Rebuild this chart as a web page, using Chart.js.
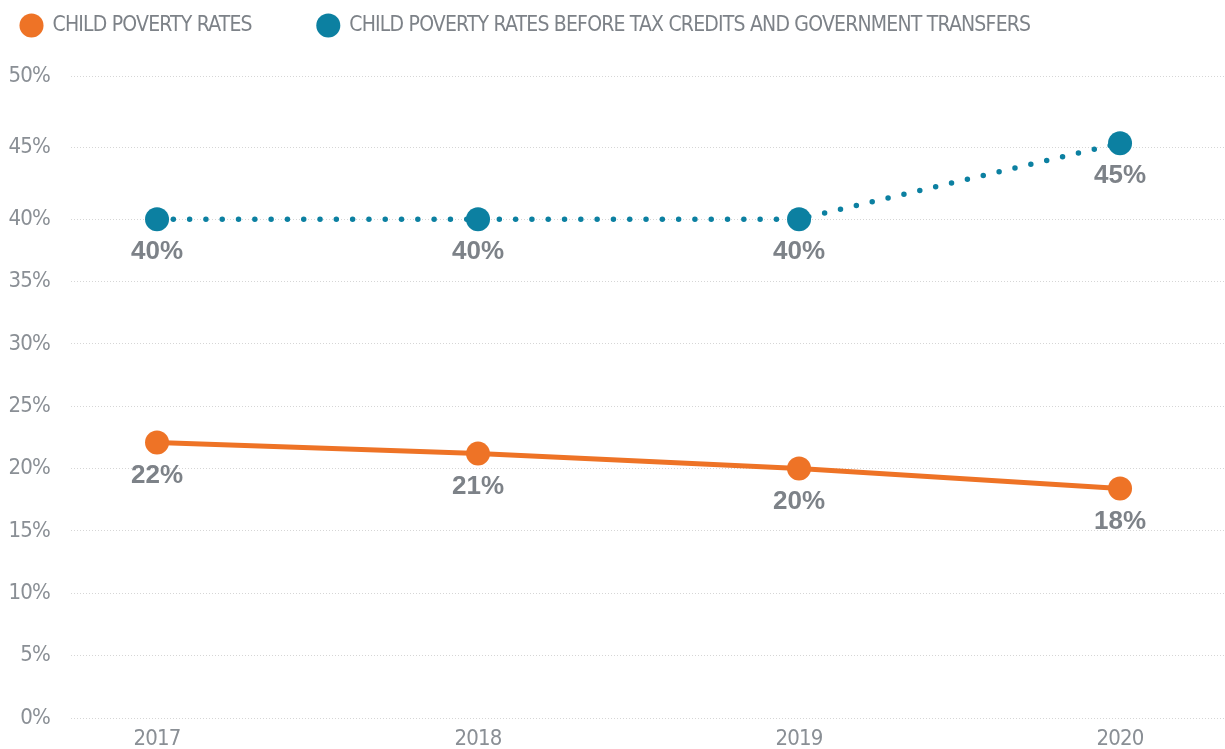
<!DOCTYPE html>
<html>
<head>
<meta charset="utf-8">
<script src="https://cdn.jsdelivr.net/npm/chart.js@4/dist/chart.umd.min.js"></script>
<style>
  html, body { margin: 0; padding: 0; background: #ffffff; overflow: hidden; width: 1225px; height: 749px; }
  #wrap { width: 1225px; height: 749px; overflow: hidden; }
  canvas { display: block; }
</style>
</head>
<body>
<div id="wrap"><canvas id="c" width="1225" height="749"></canvas></div>
<script>
// ---- data ----
const years = [2017, 2018, 2019, 2020];
const childPovertyRates = [22.1, 21.2, 20.0, 18.4];
const beforeTaxCreditsRates = [40.0, 40.0, 40.0, 45.3];
const seriesNames = ['CHILD POVERTY RATES', 'CHILD POVERTY RATES BEFORE TAX CREDITS AND GOVERNMENT TRANSFERS'];
const yTickValues = [0, 5, 10, 15, 20, 25, 30, 35, 40, 45, 50];

// ---- styles ----
const ORANGE = '#ee7326';
const BLUE = '#0c80a1';
const TEXT = '#7d8288';
const TICK = '#8a8f95';
const NARROW = "'DejaVu Sans Condensed', 'DejaVu Sans', sans-serif";

// the original y axis uses a wider spacing above 40%
const warpPoints = [[0, 0], [40, 0.777], [50, 1]];
function warp(v) {
  for (let i = 1; i < warpPoints.length; i++) {
    const [v0, d0] = warpPoints[i - 1], [v1, d1] = warpPoints[i];
    if (v <= v1 || i === warpPoints.length - 1) return d0 + (v - v0) / (v1 - v0) * (d1 - d0);
  }
}
function unwarp(d) {
  for (let i = 1; i < warpPoints.length; i++) {
    const [v0, d0] = warpPoints[i - 1], [v1, d1] = warpPoints[i];
    if (d <= d1 || i === warpPoints.length - 1) return v0 + (d - d0) / (d1 - d0) * (v1 - v0);
  }
}
class WarpScale extends Chart.LinearScale {
  getPixelForValue(value) {
    if (value === null || value === undefined || isNaN(value)) return NaN;
    return this.getPixelForDecimal(warp(value));
  }
  getValueForPixel(pixel) {
    return unwarp(this.getDecimalForPixel(pixel));
  }
}
WarpScale.id = 'warp';
WarpScale.defaults = Chart.LinearScale.defaults;
Chart.register(WarpScale);

const TRACK = '-0.8px';
const tracking = {
  id: 'tracking',
  beforeUpdate(chart) { chart.ctx.letterSpacing = TRACK; },
  beforeDraw(chart) { chart.ctx.letterSpacing = TRACK; }
};

const valueLabels = {
  id: 'valueLabels',
  afterDatasetsDraw(chart) {
    const ctx = chart.ctx;
    ctx.save();
    ctx.letterSpacing = '0px';
    ctx.font = "bold 26px 'Liberation Sans', Arial, sans-serif";
    ctx.fillStyle = TEXT;
    ctx.textAlign = 'center';
    ctx.textBaseline = 'middle';
    chart.data.datasets.forEach((ds, di) => {
      const meta = chart.getDatasetMeta(di);
      meta.data.forEach((pt, i) => {
        const v = ds.data[i].y;
        ctx.fillText(Math.round(v) + '%', pt.x, pt.y + 33);
      });
    });
    ctx.restore();
  }
};

const legendSize = {
  id: 'legendSize',
  beforeInit(chart) {
    const orig = chart.legend.fit;
    chart.legend.fit = function () {
      orig.call(this);
      this.height = 127;
    };
  }
};

const toPoints = (vals) => years.map((yr, i) => ({ x: yr, y: vals[i] }));

new Chart(document.getElementById('c'), {
  type: 'line',
  data: {
    datasets: [
      {
        label: seriesNames[0],
        data: toPoints(childPovertyRates),
        borderColor: ORANGE,
        backgroundColor: ORANGE,
        pointBackgroundColor: ORANGE,
        pointBorderWidth: 0,
        pointRadius: 12,
        borderWidth: 5,
        tension: 0
      },
      {
        label: seriesNames[1],
        data: toPoints(beforeTaxCreditsRates),
        borderColor: BLUE,
        backgroundColor: BLUE,
        pointBackgroundColor: BLUE,
        pointBorderWidth: 0,
        pointRadius: 12,
        borderWidth: 5.5,
        borderDash: [0, 16.3],
        borderCapStyle: 'round',
        tension: 0
      }
    ]
  },
  options: {
    responsive: false,
    animation: false,
    devicePixelRatio: 1,
    layout: { autoPadding: false, padding: { top: -51, left: -45, right: 0, bottom: 0 } },
    plugins: {
      tooltip: { enabled: false },
      legend: {
        position: 'top',
        align: 'start',
        labels: {
          usePointStyle: true,
          pointStyle: 'circle',
          boxHeight: 17,
          boxWidth: 21,
          padding: 66,
          color: TEXT,
          font: { family: NARROW, size: 21 },
          generateLabels(chart) {
            const items = Chart.defaults.plugins.legend.labels.generateLabels(chart);
            items.forEach(it => { it.lineWidth = 0; it.lineDash = []; });
            return items;
          }
        }
      }
    },
    scales: {
      x: {
        type: 'linear',
        min: 2016.732,
        max: 2020.327,
        grid: { display: false, drawTicks: false },
        border: { display: false },
        ticks: {
          stepSize: 1,
          includeBounds: false,
          autoSkip: false,
          maxRotation: 0,
          padding: 8,
          color: TICK,
          font: { family: NARROW, size: 22 },
          callback: (v) => (years.includes(v) ? String(v) : '')
        },
        afterFit(scale) {
          scale.height = 31;
          scale.paddingLeft = 0;
          scale.paddingRight = 0;
        }
      },
      y: {
        type: 'warp',
        min: 0,
        max: 50,
        afterBuildTicks(scale) { scale.ticks = yTickValues.map(v => ({ value: v })); },
        grid: { color: '#d6d6d6', lineWidth: 1, drawTicks: false },
        border: { display: false, dash: [1, 2] },
        ticks: {
          padding: 21,
          color: TICK,
          font: { family: NARROW, size: 22 },
          callback: (v) => v + '%'
        },
        afterFit(scale) {
          scale.width = 116;
          scale.paddingTop = 0;
          scale.paddingBottom = 0;
        }
      }
    }
  },
  plugins: [tracking, valueLabels, legendSize]
});
</script>
</body>
</html>
